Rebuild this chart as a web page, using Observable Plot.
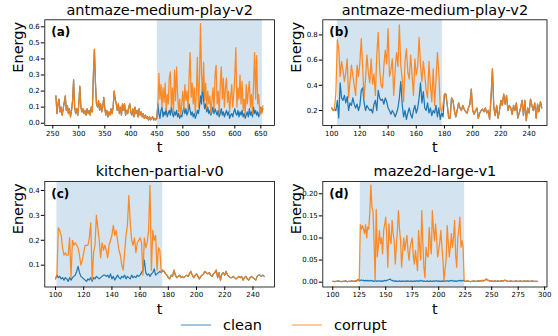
<!DOCTYPE html>
<html><head><meta charset="utf-8">
<script src="https://cdn.jsdelivr.net/npm/d3@7"></script>
<script src="https://cdn.jsdelivr.net/npm/@observablehq/plot@0.6"></script>
<style>
body{margin:0;background:#fff;}
#chart{position:relative;width:558px;height:336px;font-family:"DejaVu Sans",sans-serif;background:#fff;overflow:hidden;}
#chart > svg{position:absolute;}
</style></head><body><div id="chart"></div>
<script>
// ---------------- data ----------------
// (a) antmaze-medium-play-v2, t = 256..654 step 2
const aStart = 256, aStep = 2;
const aShared = [ // t=256..452, clean and corrupt coincide
  0.17,0.06,0.12,0.15,0.07,0.10,0.05,0.09,0.13,0.17,
  0.08,0.11,0.06,0.09,0.04,0.08,0.14,0.27,0.10,0.06,
  0.09,0.05,0.12,0.23,0.10,0.07,0.09,0.06,0.08,0.05,
  0.09,0.06,0.08,0.05,0.10,0.07,0.30,0.46,0.25,0.12,
  0.10,0.14,0.08,0.12,0.07,0.10,0.16,0.09,0.05,0.08,
  0.04,0.07,0.05,0.09,0.06,0.10,0.20,0.15,0.12,0.08,
  0.12,0.06,0.10,0.05,0.12,0.08,0.12,0.05,0.08,0.06,
  0.10,0.12,0.07,0.05,0.09,0.04,0.10,0.06,0.08,0.04,
  0.09,0.05,0.07,0.04,0.06,0.03,0.05,0.03,0.04,0.02,
  0.04,0.02,0.03,0.04,0.02,0.03,0.02,0.03,0.12];
const aCorruptWin = [ // t=454..654
  0.31,0.15,0.24,0.10,0.22,0.13,0.25,0.08,0.18,0.12,
  0.28,0.32,0.10,0.22,0.06,0.33,0.14,0.35,0.18,0.07,
  0.15,0.05,0.12,0.20,0.08,0.24,0.14,0.20,0.09,0.28,
  0.44,0.16,0.25,0.12,0.22,0.06,0.18,0.41,0.10,0.26,
  0.62,0.30,0.20,0.38,0.14,0.25,0.09,0.20,0.12,0.17,
  0.06,0.14,0.22,0.08,0.30,0.36,0.12,0.20,0.06,0.24,
  0.35,0.15,0.28,0.10,0.22,0.28,0.13,0.20,0.07,0.16,
  0.24,0.10,0.18,0.30,0.47,0.10,0.22,0.15,0.30,0.12,
  0.26,0.08,0.15,0.05,0.24,0.12,0.20,0.26,0.10,0.18,
  0.06,0.24,0.44,0.15,0.42,0.12,0.18,0.05,0.10,0.06,
  0.11];
const aCleanWin = [ // t=454..654
  0.06,0.03,0.08,0.10,0.04,0.07,0.05,0.09,0.04,0.06,
  0.08,0.05,0.10,0.06,0.04,0.07,0.05,0.08,0.04,0.06,
  0.03,0.05,0.04,0.07,0.10,0.06,0.09,0.05,0.07,0.12,
  0.08,0.05,0.07,0.04,0.06,0.03,0.05,0.08,0.06,0.10,
  0.17,0.12,0.25,0.14,0.09,0.12,0.07,0.10,0.06,0.08,
  0.05,0.07,0.10,0.06,0.09,0.07,0.05,0.08,0.04,0.06,
  0.09,0.05,0.07,0.04,0.06,0.08,0.05,0.07,0.03,0.05,
  0.06,0.04,0.07,0.09,0.06,0.05,0.08,0.04,0.07,0.05,
  0.08,0.04,0.06,0.03,0.05,0.07,0.04,0.09,0.05,0.07,
  0.04,0.10,0.06,0.08,0.05,0.07,0.04,0.06,0.10,0.07,
  0.09];
const aWindow = [451, 653];

// (b) antmaze-medium-play-v2, t = 100..249 step 1
const bStart = 100, bStep = 1;
const bPre = [0.22,0.20,0.21]; // t=100..102
const bCorruptWin = [ // t=103..179
  0.35,
  0.76,0.69,0.47,0.59,0.52,0.43,0.50,0.61,0.30,0.43,
  0.56,0.48,0.40,0.32,0.56,0.47,0.58,0.77,0.53,0.30,
  0.45,0.64,0.50,0.42,0.61,0.41,0.49,0.32,0.64,0.82,
  0.53,0.40,0.38,0.55,0.68,0.57,0.85,0.47,0.52,0.61,
  0.32,0.52,0.66,0.55,0.88,0.56,0.45,0.27,0.59,0.69,
  0.50,0.45,0.64,0.48,0.32,0.61,0.48,0.55,0.78,0.56,
  0.43,0.59,0.48,0.36,0.30,0.59,0.40,0.27,0.53,0.24,
  0.45,0.66,0.50,0.22,0.19,0.25];
const bCleanWin = [ // t=103..179
  0.20,
  0.28,0.14,0.42,0.30,0.28,0.32,0.26,0.31,0.20,0.26,
  0.24,0.30,0.25,0.22,0.25,0.20,0.24,0.36,0.38,0.26,
  0.20,0.24,0.22,0.20,0.21,0.18,0.25,0.28,0.20,0.36,
  0.30,0.28,0.29,0.25,0.30,0.27,0.22,0.20,0.17,0.20,
  0.18,0.15,0.18,0.22,0.30,0.43,0.25,0.15,0.20,0.13,
  0.18,0.22,0.17,0.14,0.20,0.24,0.18,0.22,0.30,0.42,
  0.26,0.35,0.22,0.20,0.26,0.18,0.22,0.16,0.20,0.18,
  0.24,0.15,0.22,0.13,0.18,0.15];
const bPost = [ // t=180..249
  0.33,0.33,0.24,0.14,0.14,0.30,0.28,0.20,0.15,0.20,
  0.26,0.22,0.20,0.24,0.21,0.19,0.18,0.22,0.25,0.37,
  0.20,0.17,0.20,0.22,0.14,0.18,0.20,0.21,0.19,0.22,
  0.18,0.20,0.13,0.30,0.53,0.22,0.16,0.24,0.14,0.20,
  0.28,0.24,0.33,0.25,0.32,0.20,0.24,0.22,0.17,0.24,
  0.20,0.26,0.14,0.18,0.22,0.28,0.16,0.28,0.12,0.22,
  0.18,0.29,0.24,0.20,0.26,0.14,0.25,0.19,0.27,0.22];
const bWindow = [104, 178.5];

// (c) kitchen-partial-v0, t = 100..248 step 1
const cStart = 100, cStep = 1;
const cCorruptWin = [ // t=100..175
  0.045,0.06,0.25,0.24,0.22,0.17,0.14,0.15,0.14,0.14,
  0.21,0.05,0.20,0.18,0.19,0.18,0.17,0.14,0.10,0.12,
  0.15,0.18,0.18,0.18,0.21,0.27,0.04,0.15,0.18,0.30,
  0.25,0.20,0.13,0.19,0.16,0.18,0.16,0.13,0.18,0.20,
  0.22,0.26,0.22,0.24,0.20,0.16,0.14,0.10,0.08,0.15,
  0.22,0.26,0.38,0.27,0.20,0.18,0.21,0.15,0.19,0.20,
  0.21,0.19,0.06,0.21,0.17,0.19,0.24,0.42,0.08,0.24,
  0.20,0.22,0.08,0.17,0.16,0.07];
const cCleanWin = [ // t=100..175
  0.045,0.06,0.05,0.055,0.045,0.05,0.04,0.05,0.045,0.035,
  0.05,0.04,0.05,0.055,0.06,0.075,0.095,0.07,0.055,0.05,
  0.045,0.04,0.035,0.045,0.04,0.05,0.035,0.05,0.045,0.055,
  0.05,0.045,0.05,0.055,0.06,0.06,0.055,0.06,0.05,0.065,
  0.045,0.055,0.04,0.05,0.06,0.05,0.045,0.055,0.05,0.06,
  0.045,0.055,0.05,0.045,0.06,0.05,0.055,0.05,0.06,0.055,
  0.06,0.07,0.08,0.12,0.07,0.06,0.065,0.055,0.065,0.07,
  0.085,0.06,0.065,0.07,0.075,0.07];
const cPost = [ // t=176..248
  0.08,0.075,0.065,0.06,0.05,0.045,0.06,0.055,0.08,0.06,
  0.05,0.055,0.06,0.05,0.055,0.05,0.055,0.06,0.055,0.065,
  0.075,0.06,0.05,0.06,0.065,0.055,0.045,0.055,0.06,0.065,
  0.075,0.07,0.065,0.07,0.06,0.055,0.065,0.07,0.08,0.05,
  0.07,0.04,0.065,0.07,0.06,0.075,0.06,0.055,0.05,0.05,
  0.055,0.05,0.045,0.05,0.055,0.05,0.055,0.04,0.05,0.055,
  0.045,0.04,0.05,0.055,0.05,0.045,0.04,0.055,0.06,0.06,
  0.055,0.06,0.055];
const cWindow = [101, 176];

// (d) maze2d-large-v1, t = 100..293 step 1
const dStart = 100, dStep = 1;
const dPre = [ // t=100..125
  0.002,0.002,0.001,0.002,0.002,0.003,0.002,0.002,0.001,0.002,
  0.002,0.002,0.003,0.002,0.001,0.002,0.002,0.002,0.003,0.002,
  0.002,0.003,0.002,0.004,0.006,0.003];
const dCorruptWin = [ // t=126..224
  0.13,0.12,0.128,0.12,0.11,0.13,0.10,0.125,0.12,0.16,
  0.22,0.17,0.16,0.09,0.005,0.165,0.057,0.08,0.117,0.087,
  0.10,0.064,0.117,0.13,0.147,0.10,0.034,0.132,0.10,0.087,
  0.14,0.11,0.094,0.041,0.08,0.117,0.162,0.12,0.094,0.034,
  0.07,0.10,0.072,0.09,0.106,0.07,0.05,0.079,0.09,0.10,
  0.06,0.041,0.072,0.05,0.026,0.117,0.08,0.05,0.162,0.09,
  0.034,0.01,0.079,0.06,0.057,0.124,0.09,0.064,0.162,0.12,
  0.094,0.132,0.10,0.057,0.072,0.09,0.117,0.08,0.05,0.004,
  0.03,0.05,0.128,0.09,0.057,0.08,0.11,0.079,0.10,0.14,
  0.06,0.034,0.10,0.12,0.147,0.079,0.094,0.08,0.004];
const dCleanWin = [ // t=126..224
  0.004,0.005,0.004,0.004,0.003,0.004,0.003,0.004,0.003,0.003,
  0.004,0.003,0.003,0.002,0.003,0.003,0.002,0.003,0.003,0.002,
  0.003,0.002,0.003,0.004,0.003,0.004,0.005,0.006,0.007,0.005,
  0.004,0.003,0.003,0.002,0.003,0.002,0.002,0.003,0.002,0.002,
  0.003,0.002,0.002,0.003,0.002,0.003,0.002,0.002,0.003,0.002,
  0.002,0.003,0.002,0.003,0.003,0.002,0.003,0.004,0.003,0.002,
  0.003,0.002,0.002,0.003,0.002,0.002,0.003,0.002,0.002,0.003,
  0.002,0.003,0.003,0.002,0.003,0.002,0.002,0.003,0.002,0.003,
  0.002,0.003,0.003,0.002,0.003,0.003,0.004,0.003,0.003,0.002,
  0.003,0.002,0.003,0.003,0.004,0.003,0.003,0.004,0.003];
const dPost = [ // t=225..293
  0.002,0.002,0.003,0.002,0.002,0.001,0.002,0.002,0.003,0.002,
  0.002,0.002,0.003,0.002,0.003,0.003,0.004,0.003,0.004,0.005,
  0.007,0.005,0.004,0.003,0.002,0.003,0.002,0.002,0.003,0.002,
  0.002,0.003,0.002,0.002,0.003,0.003,0.003,0.004,0.004,0.003,
  0.002,0.002,0.002,0.003,0.002,0.002,0.002,0.002,0.003,0.002,
  0.002,0.002,0.003,0.002,0.002,0.002,0.003,0.002,0.002,0.003,
  0.002,0.002,0.002,0.003,0.002,0.002,0.002,0.002,0.002];
const dWindow = [126, 224.5];

// titles, tags, ticks
const titles = ["antmaze-medium-play-v2", "antmaze-medium-play-v2", "kitchen-partial-v0", "maze2d-large-v1"];
const tags = ["(a)", "(b)", "(c)", "(d)"];
const aXTicks = [250,300,350,400,450,500,550,600,650];
const bXTicks = [100,120,140,160,180,200,220,240];
const cXTicks = [100,120,140,160,180,200,220,240];
const dXTicks = [100,125,150,175,200,225,250,275,300];
const aYTicks = [0,0.1,0.2,0.3,0.4,0.5,0.6];
const bYTicks = [0.2,0.4,0.6,0.8];
const cYTicks = [0.1,0.2,0.3,0.4];
const dYTicks = [0,0.05,0.1,0.15,0.2];
const legendLabels = ["clean", "corrupt"];
const xLabel = "t", yLabel = "Energy";

// ---------------- drawing ----------------
const BLUE = "#1f77b4", ORANGE = "#ff7f0e", SHADE = "#d3e4f0";
const toSeries = (start, step, values) => values.map((v, i) => ({t: start + i * step, v}));

function panel(cfg) {
  const clean = toSeries(cfg.start, cfg.step, cfg.clean);
  const corrupt = toSeries(cfg.start, cfg.step, cfg.corrupt);
  const svg = Plot.plot({
    width: cfg.w, height: cfg.h,
    marginLeft: cfg.ml, marginRight: cfg.mr, marginTop: cfg.mt, marginBottom: cfg.mb,
    style: {fontFamily: "DejaVu Sans", fontSize: "7px", background: "transparent", color: "black", overflow: "visible"},
    x: {domain: cfg.xDomain, label: null},
    y: {domain: cfg.yDomain, label: null},
    marks: [
      Plot.rect([cfg.window], {x1: d => d[0], x2: d => d[1], y1: () => cfg.yDomain[0], y2: () => cfg.yDomain[1], fill: SHADE}),
      Plot.line(clean, {x: "t", y: "v", stroke: BLUE, strokeWidth: 1.25}),
      Plot.line(corrupt, {x: "t", y: "v", stroke: ORANGE, strokeWidth: 1.25, strokeOpacity: 0.9}),
      Plot.frame({stroke: "black", strokeWidth: 0.8}),
      Plot.axisX({ticks: cfg.xTicks, tickSize: 3.5, tickPadding: 2, tickFormat: d => String(d), label: null}),
      Plot.axisY({ticks: cfg.yTicks, tickSize: 3.5, tickPadding: 1.5, tickFormat: d3.format(cfg.yFmt), label: null}),
      Plot.text([cfg.title], {text: d => d, frameAnchor: "top", lineAnchor: "middle", dy: -cfg.titleGap, fontSize: 14.5}),
      Plot.text([cfg.tag], {text: d => d, frameAnchor: "top-left", dx: 6.4, dy: 7.9, fontSize: 12, fontWeight: "bold", textAnchor: "start", lineAnchor: "top"}),
      Plot.text([yLabel], {text: d => d, frameAnchor: "left", lineAnchor: "middle", dx: -26, rotate: -90, fontSize: 14.5}),
      Plot.text([xLabel], {text: d => d, frameAnchor: "bottom", dy: 16.5, fontSize: 14.5, lineAnchor: "top"})
    ]
  });
  svg.style.left = cfg.left + "px";
  svg.style.top = cfg.top + "px";
  document.getElementById("chart").append(svg);
}

panel({left: 0, top: 0, w: 279, h: 160, ml: 44.3, mr: 5, mt: 19.3, mb: 35, titleGap: 9.5,
  start: aStart, step: aStep, clean: aShared.concat(aCleanWin), corrupt: aShared.concat(aCorruptWin),
  window: aWindow, xDomain: [234.6, 676.3], yDomain: [-0.0143, 0.6436], xTicks: aXTicks, yTicks: aYTicks, yFmt: ".1f",
  title: titles[0], tag: tags[0]});
panel({left: 279, top: 0, w: 279, h: 160, ml: 43.3, mr: 11.5, mt: 19.3, mb: 35, titleGap: 9.5,
  start: bStart, step: bStep, clean: bPre.concat(bCleanWin, bPost), corrupt: bPre.concat(bCorruptWin, bPost),
  window: bWindow, xDomain: [93.7, 252.7], yDomain: [0.081, 0.92], xTicks: bXTicks, yTicks: bYTicks, yFmt: ".1f",
  title: titles[1], tag: tags[1]});
panel({left: 0, top: 160, w: 279, h: 160, ml: 44.3, mr: 5, mt: 21, mb: 33.5, titleGap: 10.5,
  start: cStart, step: cStep, clean: cCleanWin.concat(cPost), corrupt: cCorruptWin.concat(cPost),
  window: cWindow, xDomain: [92.4, 255.3], yDomain: [0.0124, 0.436], xTicks: cXTicks, yTicks: cYTicks, yFmt: ".1f",
  title: titles[2], tag: tags[2]});
panel({left: 279, top: 160, w: 279, h: 160, ml: 43.3, mr: 11.5, mt: 21, mb: 33.5, titleGap: 10.5,
  start: dStart, step: dStep, clean: dPre.concat(dCleanWin, dPost), corrupt: dPre.concat(dCorruptWin, dPost),
  window: dWindow, xDomain: [90.6, 302.2], yDomain: [-0.0109, 0.2278], xTicks: dXTicks, yTicks: dYTicks, yFmt: ".2f",
  title: titles[3], tag: tags[3]});

// legend
const leg = d3.select("#chart").append("svg")
  .attr("width", 558).attr("height", 24)
  .style("left", "0px").style("top", "313px");
const legX = [181, 292];
const legColors = [BLUE, ORANGE];
legendLabels.forEach((lab, i) => {
  leg.append("line").attr("x1", legX[i]).attr("x2", legX[i] + 30).attr("y1", 12).attr("y2", 12)
    .attr("stroke", legColors[i]).attr("stroke-width", 1.5).attr("stroke-opacity", 0.55);
  leg.append("text").attr("x", legX[i] + 42).attr("y", 12).attr("dy", "0.35em")
    .attr("font-family", "DejaVu Sans").attr("font-size", 14.5).attr("fill", "black").text(lab);
});
</script></body></html>
